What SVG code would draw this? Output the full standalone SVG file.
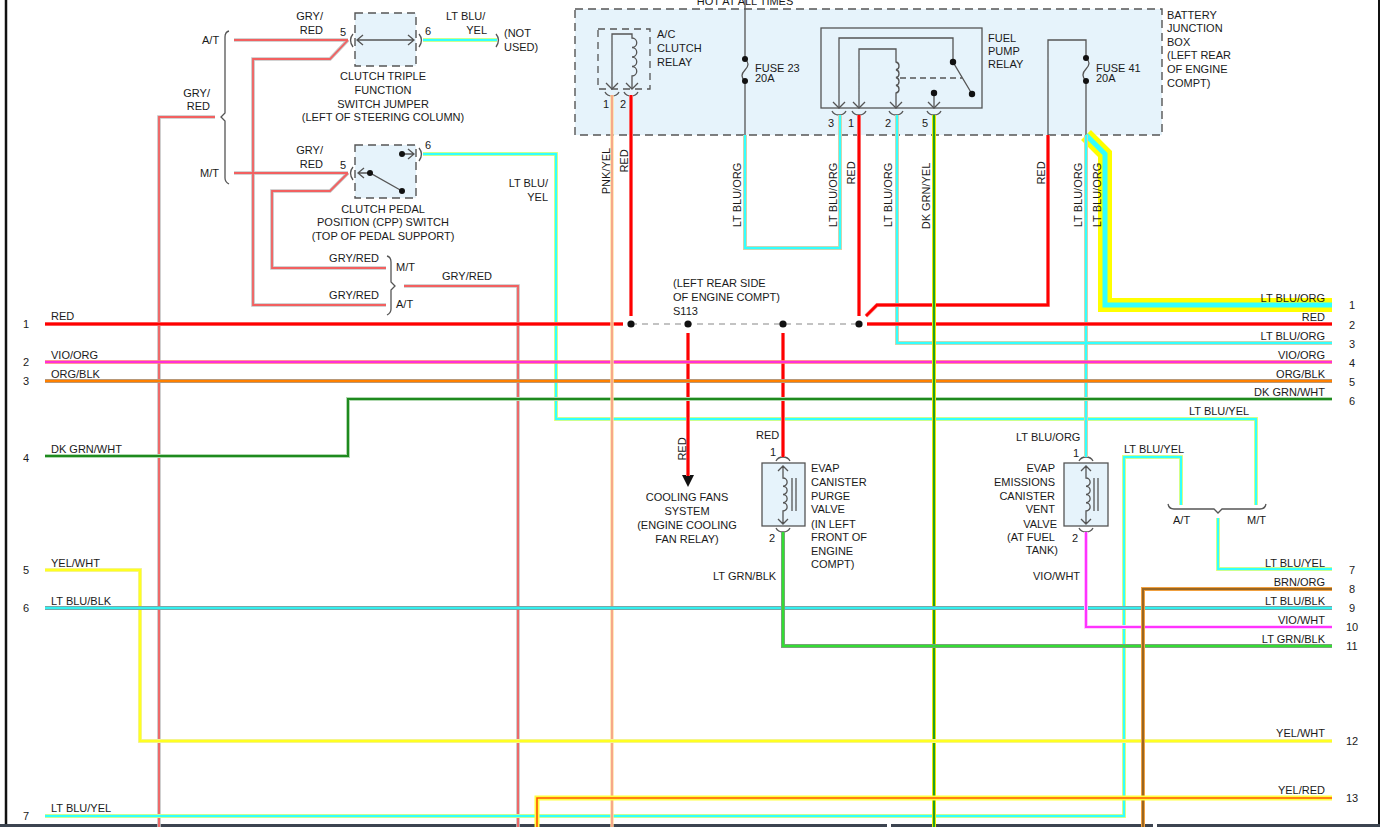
<svg xmlns="http://www.w3.org/2000/svg" width="1384" height="827" viewBox="0 0 1384 827">
<style>
text{font-family:"Liberation Sans",Arial,sans-serif;font-size:11px;fill:#1a1a1a}
.e{text-anchor:end}.m{text-anchor:middle}
.ln{fill:none;stroke:#555;stroke-width:1.3}
.dash{fill:#e6f3fb;stroke:#555;stroke-width:1.4;stroke-dasharray:8 5}
.box{fill:#e6f3fb;stroke:#555;stroke-width:1.3}
.dot{fill:#111}
.w{fill:none;stroke-linejoin:miter}
.gr-b{stroke:#c4c4c4;stroke-width:3.6}.gr-t{stroke:#f26060;stroke-width:1.8}
.ly-b{stroke:#ffff66;stroke-width:4}.ly-t{stroke:#33ffff;stroke-width:2.4}
.lo-b{stroke:#f8c898;stroke-width:4}.lo-t{stroke:#33ffff;stroke-width:2.4}
.rd-b{stroke:#f8a8a8;stroke-width:4}.rd-t{stroke:#ff0000;stroke-width:2.8}
.vo-b{stroke:#ffa050;stroke-width:3.6}.vo-t{stroke:#ff30d8;stroke-width:2.6}
.ob-b{stroke:#a0a0a0;stroke-width:4}.ob-t{stroke:#ff8000;stroke-width:2.6}
.gw-b{stroke:#b0d8b0;stroke-width:4}.gw-t{stroke:#1e8a1e;stroke-width:2}
.gy-b{stroke:#e8e800;stroke-width:4}.gy-t{stroke:#22a022;stroke-width:2}
.py-b{stroke:#ffe0a0;stroke-width:3.4}.py-t{stroke:#f7a888;stroke-width:2}
.yw-b{stroke:#f0f0b0;stroke-width:4}.yw-t{stroke:#ffff22;stroke-width:2.6}
.lb-b{stroke:#909090;stroke-width:4}.lb-t{stroke:#33f0f0;stroke-width:2.6}
.vw-b{stroke:#ffd0ff;stroke-width:4}.vw-t{stroke:#ff33ff;stroke-width:2.2}
.lg-b{stroke:#909090;stroke-width:4}.lg-t{stroke:#33dd33;stroke-width:2.6}
.bo-b{stroke:#f0a040;stroke-width:4}.bo-t{stroke:#996622;stroke-width:2}
.yr-b{stroke:#ffff40;stroke-width:5}.yr-t{stroke:#ff5500;stroke-width:1.6}
</style>
<rect width="1384" height="827" fill="#fff"/>
<g id="frame">
<line x1="6" y1="0" x2="6" y2="827" stroke="#111" stroke-width="2.5"/>
<line x1="1379" y1="0" x2="1379" y2="827" stroke="#111" stroke-width="2"/>
<path d="M0,825.5H887M891,825.5H1153M1157,825.5H1380" stroke="#3c4450" stroke-width="3"/>
</g>

<g id="battery-junction-box">
<rect x="575" y="9" width="587" height="126" class="dash"/>
<text x="745" y="5" class="m">HOT AT ALL TIMES</text>
<text x="1167" y="19">BATTERY</text>
<text x="1167" y="32">JUNCTION</text>
<text x="1167" y="46">BOX</text>
<text x="1167" y="59">(LEFT REAR</text>
<text x="1167" y="73">OF ENGINE</text>
<text x="1167" y="87">COMPT)</text>
</g>

<g id="ac-clutch-relay">
<rect x="598" y="29" width="52" height="60" fill="none" stroke="#555" stroke-width="1.3" stroke-dasharray="7 5"/>
<path class="ln" d="M612,89V34H632V38a4.5,4.5 0 0 1 0,9.5a4.5,4.5 0 0 1 0,9.5a4.5,4.5 0 0 1 0,9.5a4.5,4.5 0 0 1 0,9.5V89"/>
<path class="ln" d="M606,83L612,89L618,83M626,83L632,89L638,83"/>
<path class="ln" d="M605,92Q607,96 612,96Q617,96 619,92M624,92Q626,96 631,96Q636,96 638,92"/>
<text x="606" y="108" class="m">1</text>
<text x="623" y="108" class="m">2</text>
<text x="657" y="38">A/C</text>
<text x="657" y="52">CLUTCH</text>
<text x="657" y="66">RELAY</text>
</g>

<g id="fuse-23">
<path class="ln" d="M745,0V59q6,5 0,11q-6,6 0,11V135"/>
<circle cx="745" cy="59" r="3" class="dot"/><circle cx="745" cy="81" r="3" class="dot"/>
<text x="755" y="72">FUSE 23</text>
<text x="755" y="82">20A</text>
</g>

<g id="fuel-pump-relay">
<rect x="821" y="28" width="161" height="80" class="box"/>
<path class="ln" d="M839,108V38H953V62L972,94"/>
<path class="ln" d="M859,108V49H896V62a4,4 0 0 1 0,7.75a4,4 0 0 1 0,7.75a4,4 0 0 1 0,7.75a4,4 0 0 1 0,7.75V108"/>
<path class="ln" d="M900,78H962" stroke-dasharray="6 4"/>
<path class="ln" d="M934,93V108"/>
<circle cx="953" cy="62" r="3.2" class="dot"/><circle cx="972" cy="94" r="3.2" class="dot"/><circle cx="934" cy="93" r="3.2" class="dot"/>
<path class="ln" d="M833,102L839,108L845,102M853,102L859,108L865,102M890,102L896,108L902,102M928,102L934,108L940,102"/>
<path class="ln" d="M832,111Q834,115 839,115Q844,115 846,111M852,111Q854,115 859,115Q864,115 866,111M889,111Q891,115 896,115Q901,115 903,111M927,111Q929,115 934,115Q939,115 941,111"/>
<text x="831" y="127" class="m">3</text>
<text x="851" y="127" class="m">1</text>
<text x="888" y="127" class="m">2</text>
<text x="925" y="127" class="m">5</text>
<text x="988" y="42">FUEL</text>
<text x="988" y="55">PUMP</text>
<text x="988" y="68">RELAY</text>
</g>

<g id="fuse-41">
<path class="ln" d="M1048,135V40H1086V58q6,5 0,11q-6,6 0,12V135"/>
<circle cx="1086" cy="58" r="3" class="dot"/><circle cx="1086" cy="81" r="3" class="dot"/>
<text x="1096" y="72">FUSE 41</text>
<text x="1096" y="82">20A</text>
</g>

<g id="clutch-triple-function-switch-jumper">
<rect x="355" y="13" width="61" height="53" class="dash"/>
<path class="ln" d="M357,40H414M363,35L357,40L363,45M408,35L414,40L408,45"/>
<path class="ln" d="M353,34q-5,6 0,13M419,34q5,6 0,13"/>
<text x="323" y="20" class="e">GRY/</text>
<text x="323" y="34" class="e">RED</text>
<text x="340" y="36">5</text>
<text x="425" y="35">6</text>
<text x="446" y="20">LT BLU/</text>
<text x="487" y="34" class="e">YEL</text>
<path class="ln" d="M496,34q5,6 0,13"/>
<text x="504" y="37">(NOT</text>
<text x="504" y="51">USED)</text>
<text x="383" y="80" class="m">CLUTCH TRIPLE</text>
<text x="383" y="94" class="m">FUNCTION</text>
<text x="383" y="108" class="m">SWITCH JUMPER</text>
<text x="383" y="121" class="m">(LEFT OF STEERING COLUMN)</text>
</g>

<g id="clutch-pedal-position-switch">
<rect x="355" y="145" width="61" height="53" class="dash"/>
<path class="ln" d="M402,154H414M408,149L414,154L408,159M358,173H370L402,191M364,168L358,173L364,178"/>
<circle cx="402" cy="154" r="3" class="dot"/><circle cx="370" cy="173" r="3" class="dot"/><circle cx="402" cy="191" r="3" class="dot"/>
<path class="ln" d="M353,167q-5,6 0,13M419,148q5,6 0,13"/>
<text x="323" y="154" class="e">GRY/</text>
<text x="323" y="168" class="e">RED</text>
<text x="340" y="169">5</text>
<text x="425" y="149">6</text>
<text x="383" y="213" class="m">CLUTCH PEDAL</text>
<text x="383" y="226" class="m">POSITION (CPP) SWITCH</text>
<text x="383" y="240" class="m">(TOP OF PEDAL SUPPORT)</text>
</g>

<g id="brace-at-mt-top">
<path class="ln" d="M229,31q-4,1 -4,6V113l-4,4l4,4V178q0,4 4,6"/>
<text x="202" y="44">A/T</text>
<text x="200" y="177">M/T</text>
<text x="210" y="97" class="e">GRY/</text>
<text x="210" y="110" class="e">RED</text>
</g>

<g id="brace-at-mt-lower">
<path class="ln" d="M387,256q4,1 4,6V282l4,4l-4,4V309q0,4 -4,6"/>
<text x="379" y="262" class="e">GRY/RED</text>
<text x="396" y="271">M/T</text>
<text x="379" y="299" class="e">GRY/RED</text>
<text x="396" y="308">A/T</text>
<text x="442" y="280">GRY/RED</text>
</g>

<g id="splice-s113">
<text x="673" y="287">(LEFT REAR SIDE</text>
<text x="673" y="301">OF ENGINE COMPT)</text>
<text x="673" y="315">S113</text>
</g>

<g id="cooling-fans-system">
<path d="M682,475H694L688,487Z" fill="#111"/>
<text x="687" y="501" class="m">COOLING FANS</text>
<text x="687" y="515" class="m">SYSTEM</text>
<text x="687" y="529" class="m">(ENGINE COOLING</text>
<text x="687" y="543" class="m">FAN RELAY)</text>
</g>

<g id="evap-canister-purge-valve">
<rect x="762" y="463" width="43" height="63" class="box"/>
<path class="ln" d="M783,466V478a4,4 0 0 1 0,8.25a4,4 0 0 1 0,8.25a4,4 0 0 1 0,8.25a4,4 0 0 1 0,8.25V524M778,471L783,466L788,471M778,519L783,524L788,519M792,478V511M796,478V511"/>
<path class="ln" d="M776,461Q778,457 783,457Q788,457 790,461M776,528Q778,532 783,532Q788,532 790,528"/>
<text x="756" y="439">RED</text>
<text x="773" y="456" class="m">1</text>
<text x="772" y="542" class="m">2</text>
<text x="713" y="580">LT GRN/BLK</text>
<text x="811" y="472">EVAP</text>
<text x="811" y="486">CANISTER</text>
<text x="811" y="500">PURGE</text>
<text x="811" y="513">VALVE</text>
<text x="811" y="528">(IN LEFT</text>
<text x="811" y="541">FRONT OF</text>
<text x="811" y="555">ENGINE</text>
<text x="811" y="568">COMPT)</text>
</g>

<g id="evap-emissions-canister-vent-valve">
<rect x="1064" y="463" width="44" height="63" class="box"/>
<path class="ln" d="M1086,466V478a4,4 0 0 1 0,8.25a4,4 0 0 1 0,8.25a4,4 0 0 1 0,8.25a4,4 0 0 1 0,8.25V524M1081,471L1086,466L1091,471M1081,519L1086,524L1091,519M1094,478V511M1098,478V511"/>
<path class="ln" d="M1079,461Q1081,457 1086,457Q1091,457 1093,461M1079,528Q1081,532 1086,532Q1091,532 1093,528"/>
<text x="1016" y="441">LT BLU/ORG</text>
<text x="1076" y="457" class="m">1</text>
<text x="1075" y="542" class="m">2</text>
<text x="1033" y="580">VIO/WHT</text>
<text x="1055" y="472" class="e">EVAP</text>
<text x="1055" y="486" class="e">EMISSIONS</text>
<text x="1055" y="500" class="e">CANISTER</text>
<text x="1055" y="513" class="e">VENT</text>
<text x="1057" y="528" class="e">VALVE</text>
<text x="1055" y="541" class="e">(AT FUEL</text>
<text x="1058" y="554" class="e">TANK)</text>
</g>

<g id="brace-at-mt-right">
<path class="ln" d="M1168,504q1,5 6,5H1214l4,4l4,-4H1260q5,0 6,-5"/>
<text x="1173" y="524">A/T</text>
<text x="1247" y="524">M/T</text>
<text x="1124" y="453">LT BLU/YEL</text>
<text x="1189" y="415">LT BLU/YEL</text>
</g>

<g id="connectors" class="w">
<path d="M1086,135L1105,154V305H1332" fill="none" stroke="#ffff00" stroke-width="14"/>
<path d="M1086,135L1105,154V305H1332" fill="none" stroke="#33ffff" stroke-width="5"/>
<path class="w gr-b" d="M215,117H159V827M234,40H348M348,40L330,59H253V305H386M234,173H348M348,173L330,191H272V268H386M404,286H518V827"/>
<path class="w gr-t" d="M215,117H159V827M234,40H348M348,40L330,59H253V305H386M234,173H348M348,173L330,191H272V268H386M404,286H518V827"/>
<path class="w ly-b" d="M423,40H497M423,154H556V419H1256V505M1181,505V457H1124V816H45M1218,518V569H1332"/>
<path class="w ly-t" d="M423,40H497M423,154H556V419H1256V505M1181,505V457H1124V816H45M1218,518V569H1332"/>
<path class="w lo-b" d="M745,135V248H840V115M897,115V343H1332M1086,135V457"/>
<path class="w lo-t" d="M745,135V248H840V115M897,115V343H1332M1086,135V457"/>
<path class="w rd-b" d="M45,324H623M631,95V316M859,115V316M1048,135V305H877L866,316M867,324H1332M688,333V476M783,333V457"/>
<path class="w rd-t" d="M45,324H623M631,95V316M859,115V316M1048,135V305H877L866,316M867,324H1332M688,333V476M783,333V457"/>
<path d="M631,324H859" stroke="#888" stroke-width="1.2" stroke-dasharray="6 5" fill="none"/>
<path class="w vo-b" d="M45,362H1332"/><path class="w vo-t" d="M45,362H1332"/>
<path class="w ob-b" d="M45,381H1332"/><path class="w ob-t" d="M45,381H1332"/>
<path class="w gw-b" d="M45,456H348V399H1332"/><path class="w gw-t" d="M45,456H348V399H1332"/>
<path class="w gy-b" d="M934,115V827"/><path class="w gy-t" d="M934,115V827"/>
<path class="w py-b" d="M612,95V827"/><path class="w py-t" d="M612,95V827"/>
<path class="w yw-b" d="M45,570H140V741H1332"/><path class="w yw-t" d="M45,570H140V741H1332"/>
<path class="w lb-b" d="M45,608H1332"/><path class="w lb-t" d="M45,608H1332"/>
<path class="w vw-b" d="M1086,532V627H1332"/><path class="w vw-t" d="M1086,532V627H1332"/>
<path class="w lg-b" d="M783,532V646H1332"/><path class="w lg-t" d="M783,532V646H1332"/>
<path class="w bo-b" d="M1332,589H1143V827"/><path class="w bo-t" d="M1332,589H1143V827"/>
<path class="w yr-b" d="M1332,798H537V827"/><path class="w yr-t" d="M1332,798H537V827"/>
<circle cx="631" cy="324" r="3.6" class="dot"/>
<circle cx="688" cy="324" r="3.6" class="dot"/>
<circle cx="783" cy="324" r="3.6" class="dot"/>
<circle cx="859" cy="324" r="3.6" class="dot"/>
</g>

<g id="wire-labels">
<text transform="translate(610,171) rotate(-90)" class="m">PNK/YEL</text>
<text transform="translate(628,161) rotate(-90)" class="m">RED</text>
<text transform="translate(741,195) rotate(-90)" class="m">LT BLU/ORG</text>
<text transform="translate(837,195) rotate(-90)" class="m">LT BLU/ORG</text>
<text transform="translate(855,173) rotate(-90)" class="m">RED</text>
<text transform="translate(892,195) rotate(-90)" class="m">LT BLU/ORG</text>
<text transform="translate(930,196) rotate(-90)" class="m">DK GRN/YEL</text>
<text transform="translate(1045,173) rotate(-90)" class="m">RED</text>
<text transform="translate(1082,195) rotate(-90)" class="m">LT BLU/ORG</text>
<text transform="translate(1101,195) rotate(-90)" class="m">LT BLU/ORG</text>
<text transform="translate(686,449) rotate(-90)" class="m">RED</text>
<text x="548" y="187" class="e">LT BLU/</text>
<text x="548" y="201" class="e">YEL</text>
</g>

<g id="left-terminals">
<text x="51" y="320">RED</text>
<text x="51" y="359">VIO/ORG</text>
<text x="51" y="378">ORG/BLK</text>
<text x="51" y="453">DK GRN/WHT</text>
<text x="51" y="567">YEL/WHT</text>
<text x="51" y="605">LT BLU/BLK</text>
<text x="51" y="812">LT BLU/YEL</text>
<text x="26" y="328" class="m">1</text>
<text x="26" y="366" class="m">2</text>
<text x="26" y="385" class="m">3</text>
<text x="26" y="462" class="m">4</text>
<text x="26" y="574" class="m">5</text>
<text x="26" y="612" class="m">6</text>
<text x="26" y="820" class="m">7</text>
</g>

<g id="right-terminals">
<text x="1325" y="302" class="e">LT BLU/ORG</text>
<text x="1325" y="321" class="e">RED</text>
<text x="1325" y="340" class="e">LT BLU/ORG</text>
<text x="1325" y="359" class="e">VIO/ORG</text>
<text x="1325" y="378" class="e">ORG/BLK</text>
<text x="1325" y="396" class="e">DK GRN/WHT</text>
<text x="1325" y="567" class="e">LT BLU/YEL</text>
<text x="1325" y="586" class="e">BRN/ORG</text>
<text x="1325" y="605" class="e">LT BLU/BLK</text>
<text x="1325" y="624" class="e">VIO/WHT</text>
<text x="1325" y="643" class="e">LT GRN/BLK</text>
<text x="1325" y="737" class="e">YEL/WHT</text>
<text x="1325" y="794" class="e">YEL/RED</text>
<text x="1352" y="309" class="m">1</text>
<text x="1352" y="329" class="m">2</text>
<text x="1352" y="348" class="m">3</text>
<text x="1352" y="367" class="m">4</text>
<text x="1352" y="386" class="m">5</text>
<text x="1352" y="405" class="m">6</text>
<text x="1352" y="574" class="m">7</text>
<text x="1352" y="593" class="m">8</text>
<text x="1352" y="612" class="m">9</text>
<text x="1352" y="631" class="m">10</text>
<text x="1352" y="650" class="m">11</text>
<text x="1352" y="745" class="m">12</text>
<text x="1352" y="802" class="m">13</text>
</g>
</svg>
